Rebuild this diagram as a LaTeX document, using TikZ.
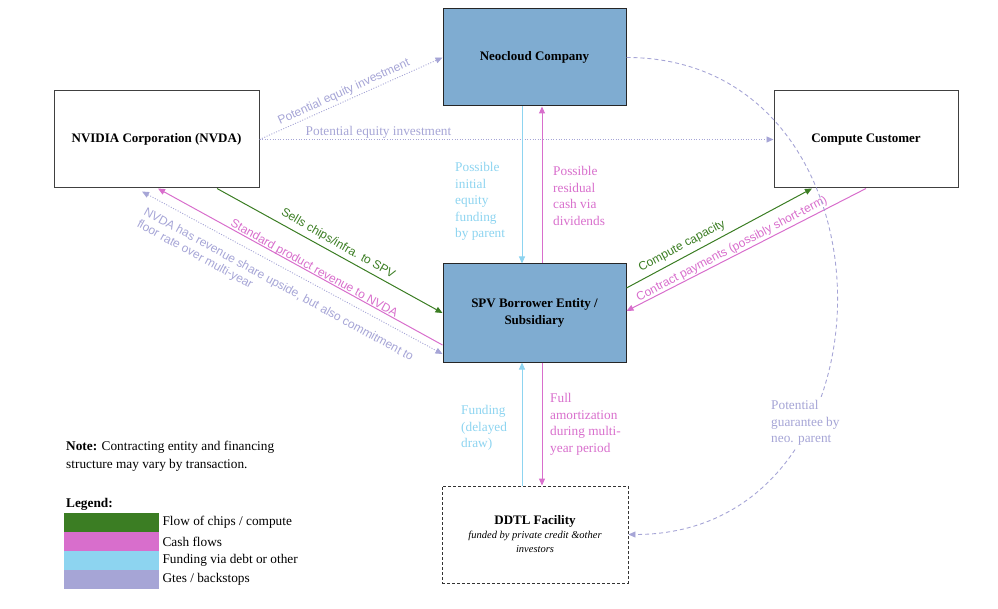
\documentclass[tikz,border=0pt]{standalone}
\usepackage{fontspec}
\setmainfont{Liberation Serif}
\newfontfamily\lsans{Liberation Sans}
\usetikzlibrary{arrows.meta,calc}
\definecolor{grn}{HTML}{3B7D23}
\definecolor{pnk}{HTML}{D86ECC}
\definecolor{blu}{HTML}{8DD4F0}
\definecolor{lav}{HTML}{A6A5D6}
\definecolor{boxblue}{HTML}{7FACD1}
\begin{document}
\begin{tikzpicture}[x=1pt,y=-1pt,
  box/.style={draw=black!75, line width=1pt, inner sep=2pt, align=center,
    font=\fontsize{13}{17}\selectfont\bfseries},
  tip/.style={-{Triangle[length=7pt,width=6pt]}},
  arr/.style={tip, line width=1pt},
  dots/.style={line width=0.9pt, dash pattern=on 1pt off 1.6pt},
  slab/.style={font=\lsans\fontsize{12}{14}\selectfont, inner sep=0pt},
  rlab/.style={font=\fontsize{13.3}{16.5}\selectfont, inner sep=0pt, align=left, anchor=north west},
  swatch/.style={draw=none, inner sep=0pt, minimum width=95pt, minimum height=19pt, anchor=north west}
]
\useasboundingbox (0,0) rectangle (998,609);

% boxes
\node[box, fill=white, minimum width=205pt, minimum height=97pt] (nvda) at (156.5,139.5) {NVIDIA Corporation (NVDA)};
\node[box, fill=boxblue, draw=black!85, minimum width=183pt, minimum height=97pt] (neo) at (534.5,57.5) {Neocloud Company};
\node[box, fill=white, minimum width=184pt, minimum height=97pt] (cust) at (866,139.5) {Compute Customer};
\node[box, fill=boxblue, draw=black!85, minimum width=183pt, minimum height=98pt] (spv) at (534.5,313) {SPV Borrower Entity /\\Subsidiary};
\node[box, draw=black!80, line width=0.9pt, dash pattern=on 3pt off 2pt, minimum width=186pt, minimum height=97pt,
  font=\fontsize{10.5}{14}\selectfont\itshape] (ddtl) at (535,534.5)
  {{\upshape\bfseries\fontsize{13}{17}\selectfont DDTL Facility}\\funded by private credit \&other\\investors};

% NVDA -> Neocloud / Customer
\draw[arr, lav, dots] (nvda.east) -- (neo.west);
\draw[arr, lav, dots] (nvda.east) -- (cust.west);
\node[slab, text=lav, rotate=24.5] (l1) at (344,92) {Potential equity investment};
\node[rlab, text=lav, anchor=base] (l2) at (378.5,136) {Potential equity investment};

% NVDA <-> SPV
\draw[arr, grn] ([xshift=60.5pt]nvda.south) -- (spv.west);
\draw[arr, pnk] ([yshift=-32pt]spv.west) -- ([xshift=1.5pt]nvda.south);
\draw[{Triangle[length=7pt,width=6pt]}-{Triangle[length=7pt,width=6pt]}, lav, dots]
  ([xshift=-14.5pt,yshift=-3pt]nvda.south) -- ([yshift=-41pt]spv.west);
\node[slab, text=grn, rotate=-30] (l3) at (338,244) {Sells chips/infra. to SPV};
\node[slab, text=pnk, rotate=-29] (l4) at (314,269) {Standard product revenue to NVDA};
\node[slab, text=lav, rotate=-28.8, align=left] (l5) at (275,291)
  {NVDA has revenue share upside, but also commitment to\\floor rate over multi-year};

% Neocloud <-> SPV
\draw[arr, blu] ([xshift=-12.5pt]neo.south) -- ([xshift=-12.5pt]spv.north);
\draw[arr, pnk] ([xshift=7.5pt]spv.north) -- ([xshift=7.5pt]neo.south);
\node[rlab, text=blu] (l6) at (455,162.4) {Possible\\initial\\equity\\funding\\by parent};
\node[rlab, text=pnk] (l7) at (553,166.4) {Possible\\residual\\cash via\\dividends};

% SPV <-> Customer
\draw[arr, grn] ([yshift=25pt]spv.east) -- ([xshift=-54pt]cust.south);
\draw[arr, pnk] (cust.south) -- ([yshift=2pt]spv.east);
\node[slab, text=grn, rotate=28] (l8) at (682,246) {Compute capacity};
\node[slab, text=pnk, rotate=27.6] (l9) at (732,249) {Contract payments (possibly short-term)};

% SPV <-> DDTL
\draw[arr, blu] ([xshift=-13pt]ddtl.north) -- ([xshift=-12.5pt]spv.south);
\draw[arr, pnk] ([xshift=7.5pt]spv.south) -- ([xshift=7pt]ddtl.north);
\node[rlab, text=blu] (l10) at (461,405.4) {Funding\\(delayed\\draw)};
\node[rlab, text=pnk] (l11) at (550,393.4) {Full\\amortization\\during multi-\\year period};

% guarantee curve
\draw[arr, lav, line width=0.9pt, dash pattern=on 4pt off 3pt]
  (neo.east) .. controls ([xshift=280pt]neo.east) and ([xshift=278pt]ddtl.east) .. (ddtl.east);
\node[rlab, text=lav, fill=white, inner sep=2pt] (l12) at (769,398.4) {Potential\\guarantee by\\neo. parent};

% note and legend
\node[rlab, font=\fontsize{13.3}{18}\selectfont] (note) at (66,441.4)
  {\textbf{Note:} Contracting entity and financing\\structure may vary by transaction.};
\node[rlab] (leg) at (66,498.4) {\textbf{Legend:}};
\node[swatch, fill=grn] (s1) at (64,513) {};
\node[swatch, fill=pnk] (s2) at (64,532) {};
\node[swatch, fill=blu] (s3) at (64,551) {};
\node[swatch, fill=lav] (s4) at (64,570) {};
\node[rlab, anchor=west] (t1) at ([xshift=3pt]s1.east) {Flow of chips / compute};
\node[rlab, anchor=west] (t2) at ([xshift=3pt]s2.east) {Cash flows};
\node[rlab, anchor=west] (t3) at ([xshift=3pt]s3.east) {Funding via debt or other};
\node[rlab, anchor=west] (t4) at ([xshift=3pt]s4.east) {Gtes / backstops};
\end{tikzpicture}
\end{document}
